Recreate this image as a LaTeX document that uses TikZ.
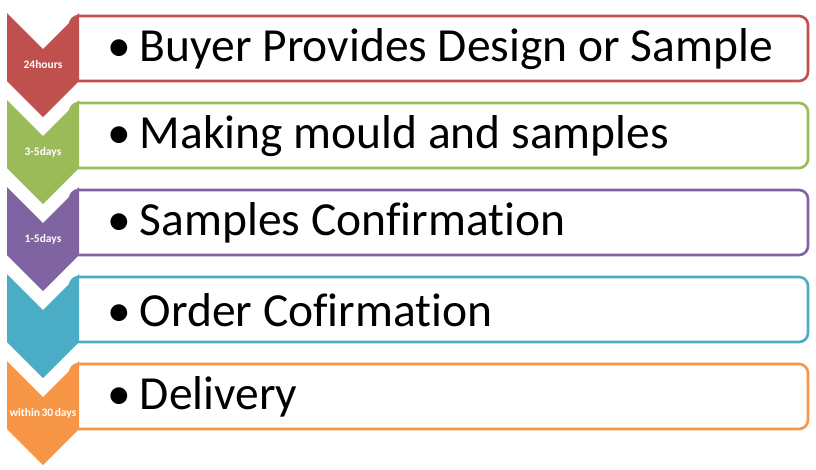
\documentclass[tikz,border=0pt]{standalone}
\usepackage{fontspec}
\setmainfont[Ligatures=NoCommon]{Carlito}
\usepackage{xcolor}
\usepackage{tikz}

\definecolor{stepred}{HTML}{C0504D}
\definecolor{stepgreen}{HTML}{9BBB59}
\definecolor{steppurple}{HTML}{8064A2}
\definecolor{stepteal}{HTML}{4BACC6}
\definecolor{steporange}{HTML}{F79646}

\begin{document}
\begin{tikzpicture}[x=1pt, y=-1pt,
    stepbox/.style={line width=2.6pt, rounded corners=9pt, fill=white},
    daylabel/.style={text=white, font=\fontsize{11.5}{12}\selectfont\bfseries, inner sep=0pt},
    steptext/.style={anchor=west, font=\fontsize{47.5}{52}\selectfont, inner sep=0pt}]
  \useasboundingbox (0,0) rectangle (816,469);
  % boxes behind the chevrons
  \draw[stepbox, draw=stepred]    (70,16)  rectangle (808,81);
  \draw[stepbox, draw=stepgreen]  (70,103) rectangle (808,168);
  \draw[stepbox, draw=steppurple] (70,190) rectangle (808,255);
  \draw[stepbox, draw=stepteal]   (70,277) rectangle (808,342);
  \draw[stepbox, draw=steporange] (70,364) rectangle (808,429);
  % chevrons
  \fill[stepred]    (7,13)  -- (43,49)  -- (79,13)  -- (79,81)  -- (43,117) -- (7,81)  -- cycle;
  \fill[stepgreen]  (7,100) -- (43,136) -- (79,100) -- (79,168) -- (43,204) -- (7,168) -- cycle;
  \fill[steppurple] (7,187) -- (43,223) -- (79,187) -- (79,255) -- (43,291) -- (7,255) -- cycle;
  \fill[stepteal]   (7,274) -- (43,310) -- (79,274) -- (79,342) -- (43,378) -- (7,342) -- cycle;
  \fill[steporange] (7,361) -- (43,397) -- (79,361) -- (79,429) -- (43,465) -- (7,429) -- cycle;
  % time labels
  \node[daylabel] (t1) at (43,65)  {24hours};
  \node[daylabel] (t2) at (43,152) {3-5days};
  \node[daylabel] (t3) at (43,239) {1-5days};
  \node[daylabel] (t5) at (43,413) {within\hspace{1.5pt}30\hspace{1.5pt}days};
  % step texts
  \node[steptext] (s1) at (107,49)  {\textbullet\hspace{9pt}Buyer Provides Design or Sample};
  \node[steptext] (s2) at (107,136) {\textbullet\hspace{9pt}Making mould and samples};
  \node[steptext] (s3) at (107,223) {\textbullet\hspace{9pt}Samples Confirmation};
  \node[steptext] (s4) at (107,310) {\textbullet\hspace{9pt}Order Cofirmation};
  \node[steptext] (s5) at (107,397) {\textbullet\hspace{9pt}Delivery};
\end{tikzpicture}
\end{document}
